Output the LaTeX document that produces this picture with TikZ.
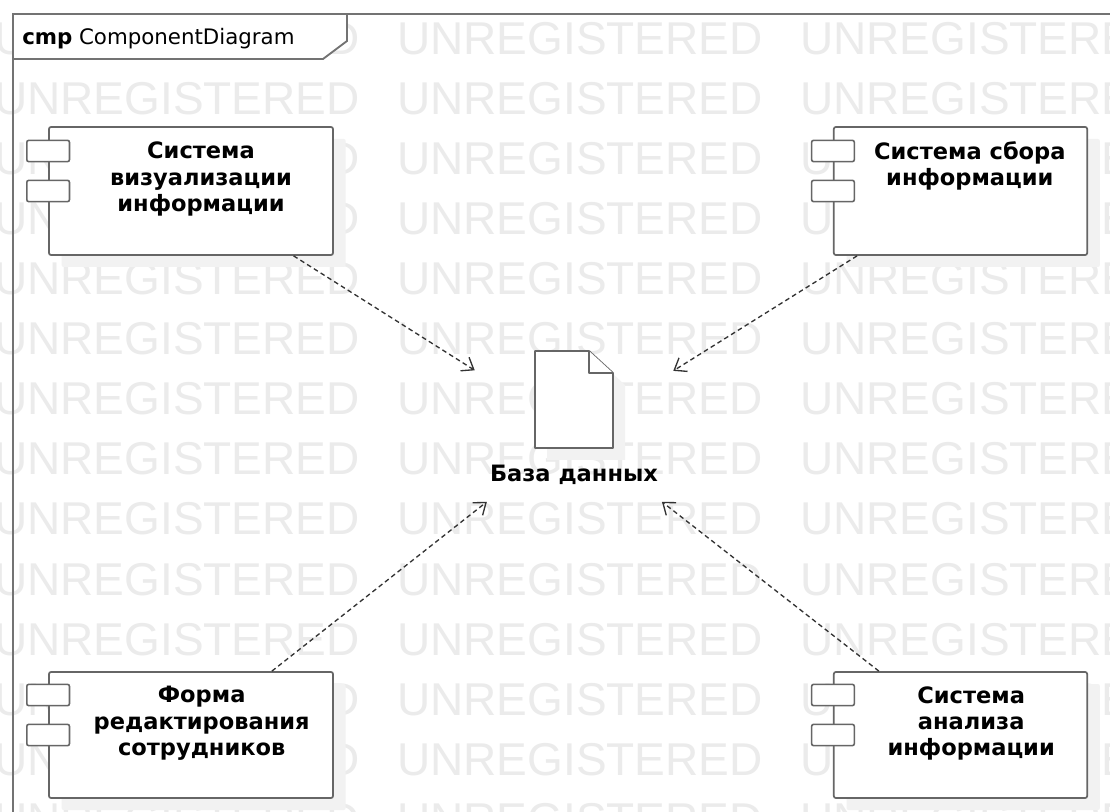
\documentclass[tikz,border=0pt]{standalone}
\usepackage{fontspec}
\setmainfont{DejaVu Sans}
\newfontfamily\wmfont{Liberation Sans}
\usepackage{tikz}
\usetikzlibrary{arrows.meta, positioning, shadows}

\begin{document}
\begin{tikzpicture}[x=0.75pt, y=-0.75pt,
    watermark/.style={text=black!8, font=\wmfont\fontsize{34.5pt}{40pt}\selectfont, anchor=base west, inner sep=0},
    frame/.style={draw=black!55, line width=1.4pt},
    compbox/.style 2 args={draw=black!60, line width=1.3pt, fill=white, rounded corners=1.5pt,
      minimum width=#1, minimum height=#2, inner sep=0,
      drop shadow={shadow xshift=9.5pt, shadow yshift=-9pt, fill=black!5, opacity=1}},
    port/.style={draw=black!60, line width=1.2pt, fill=white, rounded corners=1.5pt,
      minimum width=32pt, minimum height=16pt, inner sep=0},
    comptext/.style={font=\fontsize{16.9pt}{19.7pt}\selectfont\bfseries, align=center, inner sep=0},
    artifact/.style={draw=black!60, line width=1.3pt, fill=white, line join=round},
    dep/.style={-{Straight Barb[length=8pt, width=12pt]}, draw=black!80, line width=1pt,
      dash pattern=on 3.5pt off 2.5pt}]

  \useasboundingbox (0,0) rectangle (1110,812);
  \fill[white] (0,0) rectangle (1110,812);

  % Background watermark
  \foreach \row in {0,...,13} {
    \foreach \col in {0,1,2} {
      \node[watermark] (wm-\row-\col) at ({-6+403*\col}, {55+60*\row}) {UNREGISTERED};
    }
  }

  % Diagram frame with its name tab
  \draw[frame] (13,812) -- (13,14) -- (1110,14);
  \draw[frame, fill=white] (13,14) -- (13,59) -- (323,59) -- (347,41) -- (347,14) -- cycle;
  \node[anchor=base west, inner sep=0, font=\fontsize{16pt}{19pt}\selectfont] (title) at (22,45)
    {\textbf{cmp}\hspace{5pt}ComponentDiagram};

  % Components
  \node[compbox={213pt}{96pt}] (vis) at (191,191) {};
  \node[compbox={190pt}{96pt}] (sbor) at (960.5,191) {};
  \node[compbox={213pt}{94.5pt}] (forma) at (191,735) {};
  \node[compbox={190pt}{94.5pt}] (analiz) at (960.5,735) {};

  % Component ports
  \foreach \comp in {vis, sbor, forma, analiz} {
    \node[port] (\comp-p1) at ([yshift=30pt]\comp.west) {};
    \node[port] (\comp-p2) at (\comp.west) {};
  }

  % Component names
  \node[comptext, below=11.8pt of vis.north, xshift=7.5pt] (vis-t) {Система\\визуализации\\информации};
  \node[comptext, below=11.2pt of sbor.north, xshift=7pt] (sbor-t) {Система сбора\\информации};
  \node[comptext, below=11.2pt of forma.north, xshift=8pt] (forma-t) {Форма\\редактирования\\сотрудников};
  \node[comptext, below=11.2pt of analiz.north, xshift=8pt] (analiz-t) {Система\\анализа\\информации};

  % Database artifact
  \fill[black!5] (547,363) -- (601,363) -- (625,385) -- (625,460) -- (547,460) -- cycle;
  \draw[artifact] (535,351) -- (589,351) -- (613,373) -- (613,448) -- (535,448) -- cycle;
  \draw[artifact] (589,351) -- (589,373) -- (613,373);
  \node[comptext, anchor=base] (db-t) at (574,482) {База данных};
  \node[minimum width=148.5pt, minimum height=102.75pt, inner sep=0] (db) at (574,433) {};

  % Dependencies
  \draw[dep] (vis) -- (db);
  \draw[dep] (sbor) -- (db);
  \draw[dep] (forma) -- (db);
  \draw[dep] (analiz) -- (db);
\end{tikzpicture}
\end{document}
